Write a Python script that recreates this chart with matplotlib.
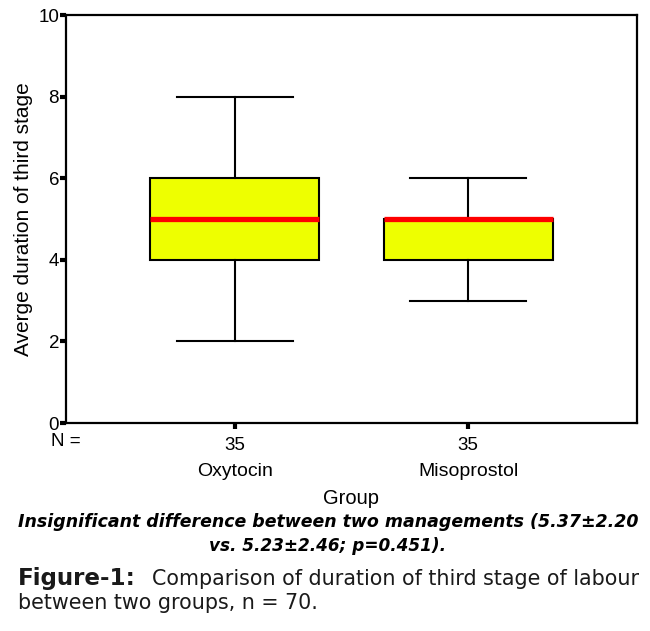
import matplotlib
matplotlib.use("Agg")
import matplotlib.pyplot as plt

groups = ["Oxytocin", "Misoprostol"]
n_counts = [35, 35]
whislo = [2, 3]
q1 = [4, 4]
med = [5, 5]
q3 = [6, 5]
whishi = [8, 6]
yticks = [0, 2, 4, 6, 8, 10]

caption1 = "Insignificant difference between two managements (5.37±2.20"
caption2 = "vs. 5.23±2.46; p=0.451)."
fig_label = "Figure-1:"
fig_caption1 = "Comparison of duration of third stage of labour"
fig_caption2 = "between two groups, n = 70."

plt.rcParams['font.family'] = ['Liberation Sans', 'DejaVu Sans']

W, H = 650, 631
fig = plt.figure(figsize=(6.5, 6.31), dpi=100)
ax = fig.add_axes([66 / W, 1 - 423 / H, (637 - 66) / W, (423 - 15) / H])

stats = []
for i, g in enumerate(groups):
    stats.append(dict(label=g, whislo=whislo[i], q1=q1[i], med=med[i], q3=q3[i],
                      whishi=whishi[i], fliers=[]))

ax.bxp(stats, positions=[1, 2], widths=0.725, patch_artist=True, showfliers=False,
       boxprops=dict(facecolor='#EEFF00', edgecolor='black', linewidth=1.5),
       medianprops=dict(color='#FF0000', linewidth=3.8, solid_capstyle='butt'),
       whiskerprops=dict(color='black', linewidth=1.5),
       capprops=dict(color='black', linewidth=1.5), capwidths=0.5)

ax.set_xlim(0.275, 2.725)
ax.set_ylim(0, 10)
ax.set_yticks(yticks)
ax.set_yticklabels([str(t) for t in yticks], fontsize=13.5)
ax.set_xticks([1, 2])
ax.set_xticklabels([str(n) for n in n_counts], fontsize=13.5)
ax.tick_params(axis='both', direction='out', length=4, width=3, colors='black')
ax.tick_params(axis='y', pad=1)
ax.tick_params(axis='x', pad=6)
for s in ax.spines.values():
    s.set_linewidth(1.6)

ax.set_ylabel("Averge duration of third stage", fontsize=15, labelpad=4)

fig.canvas.draw()
renderer = fig.canvas.get_renderer()


def px(x, y):
    return x / W, 1 - y / H


def fit(text, x0, x1, y, size0, max_size=None, **kw):
    t = fig.text(*px(x0, y), text, ha='left', va='center', fontsize=size0, **kw)
    w = t.get_window_extent(renderer).width
    s = size0 * (x1 - x0) / w
    if max_size is not None:
        s = min(s, max_size)
    t.set_fontsize(s)
    return t


fig.text(*px(81, 441), "N =", ha='right', va='center', fontsize=13.5)
for i, g in enumerate(groups):
    ax.annotate(g, xy=(i + 1, 0), xycoords='data', xytext=(0, -49),
                textcoords='offset pixels', ha='center', va='center', fontsize=14)
fig.text(*px(351, 499), "Group", ha='center', va='center', fontsize=14.5)

fit(caption1, 18, 640, 522, 14, fontweight='bold', style='italic',
    family=['DejaVu Sans'])
fit(caption2, 209, 447, 546, 14, fontweight='bold', style='italic',
    family=['DejaVu Sans'])

c1 = fit(fig_caption1, 152, 640, 579, 14, family=['DejaVu Sans'], color='#1a1a1a')
size = c1.get_fontsize()
fit(fig_label, 18, 142, 579, 14, max_size=size * 1.12, fontweight='bold',
    family=['DejaVu Sans'], color='#1a1a1a')
fig.text(*px(18, 603), fig_caption2, ha='left', va='center', fontsize=size,
         family=['DejaVu Sans'], color='#1a1a1a')

fig.savefig("out.png", dpi=100)
